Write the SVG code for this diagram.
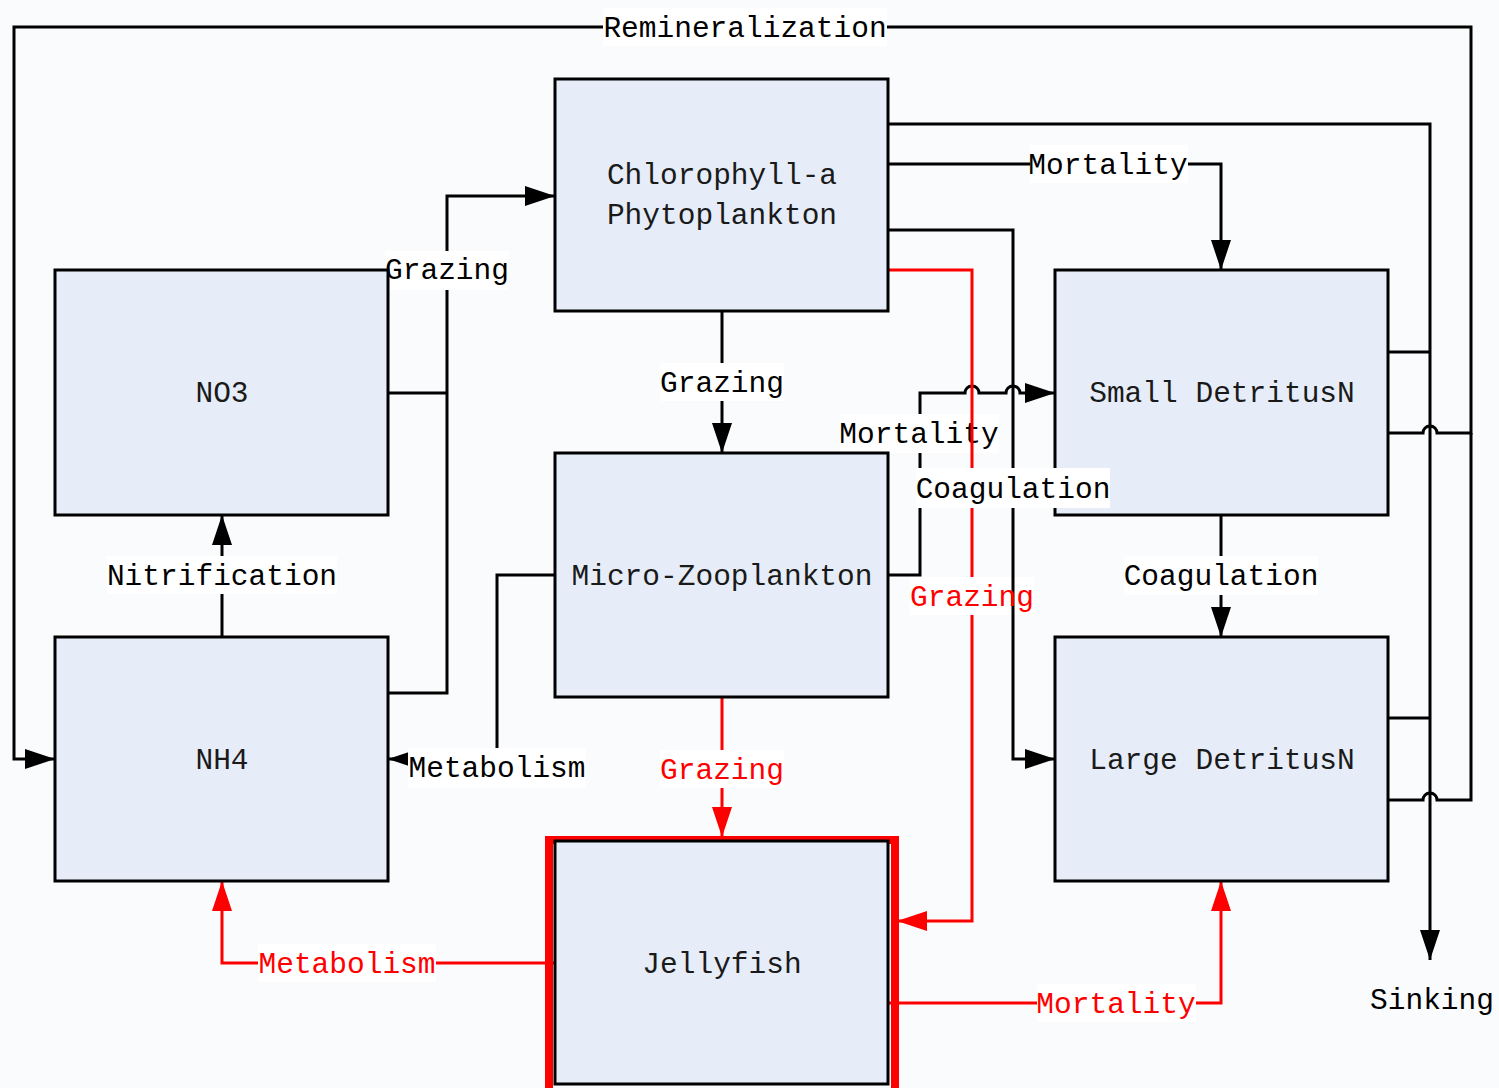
<svg xmlns="http://www.w3.org/2000/svg" width="1499" height="1088" viewBox="0 0 1499 1088">
<defs>
<style>
.box{fill:#e6edf8;stroke:#000;stroke-width:3}
.bt{font-family:"Liberation Mono",monospace;font-size:29.5px;fill:#1a1a1a;text-anchor:middle}
.lt{font-family:"Liberation Mono",monospace;font-size:29.5px;fill:#000;text-anchor:middle}
.rt{fill:#ff0000}
.ln{fill:none;stroke:#000;stroke-width:3}
.rl{fill:none;stroke:#ff0000;stroke-width:3}
.bg{fill:#ffffff}
</style>
<marker id="ab" markerUnits="userSpaceOnUse" markerWidth="32" markerHeight="20" refX="30" refY="10" orient="auto"><path d="M0,0 L30,10 L0,20 z" fill="#000"/></marker>
<marker id="ar" markerUnits="userSpaceOnUse" markerWidth="32" markerHeight="20" refX="30" refY="10" orient="auto"><path d="M0,0 L30,10 L0,20 z" fill="#ff0000"/></marker>
</defs>
<rect x="0" y="0" width="1499" height="1088" fill="#fafbfc"/>

<g id="connectors">
<!-- Remineralization -->
<path class="ln" d="M1388,433 H1423 A7,7 0 0 1 1437,433 H1471 V27 H14 V759 H55" marker-end="url(#ab)"/>
<path class="ln" d="M1388,800 H1423 A7,7 0 0 1 1437,800 H1471 V433"/>
<!-- Sinking -->
<path class="ln" d="M888,124 H1430 V960" marker-end="url(#ab)"/>
<path class="ln" d="M1388,352 H1430"/>
<path class="ln" d="M1388,718 H1430"/>
<!-- Mortality Chl -> Small -->
<path class="ln" d="M888,164 H1221 V270" marker-end="url(#ab)"/>
<!-- Coagulation Chl -> Large -->
<path class="ln" d="M888,230 H1013 V759 H1055" marker-end="url(#ab)"/>
<!-- Mortality Micro -> Small -->
<path class="ln" d="M888,575 H920 V393 H965 A7,7 0 0 1 979,393 H1006 A7,7 0 0 1 1020,393 H1055" marker-end="url(#ab)"/>
<!-- Grazing Chl -> Micro -->
<path class="ln" d="M722,311 V453" marker-end="url(#ab)"/>
<!-- Grazing nutrients -> Chl -->
<path class="ln" d="M388,393 H447"/>
<path class="ln" d="M388,693 H447 V196 H555" marker-end="url(#ab)"/>
<!-- Nitrification -->
<path class="ln" d="M222,637 V515" marker-end="url(#ab)"/>
<!-- Metabolism Micro -> NH4 -->
<path class="ln" d="M555,575 H497 V759 H388" marker-end="url(#ab)"/>
<!-- Coagulation Small -> Large -->
<path class="ln" d="M1221,515 V637" marker-end="url(#ab)"/>
</g>

<g id="labels-black-1">
<rect class="bg" x="603" y="8" width="284" height="38"/>
<text class="lt" x="745" y="37">Remineralization</text>
<rect class="bg" x="1030" y="145" width="158" height="38"/>
<text class="lt" x="1108" y="174">Mortality</text>
<rect class="bg" x="385" y="251" width="124" height="39"/>
<text class="lt" x="447" y="279">Grazing</text>
<rect class="bg" x="660" y="363" width="124" height="38"/>
<text class="lt" x="722" y="392">Grazing</text>
<rect class="bg" x="840" y="414" width="159" height="39"/>
<text class="lt" x="919" y="443">Mortality</text>
<rect class="bg" x="107" y="556" width="230" height="38"/>
<text class="lt" x="222" y="585">Nitrification</text>
<rect class="bg" x="408" y="748" width="178" height="40"/>
<text class="lt" x="497" y="777">Metabolism</text>
<rect class="bg" x="1124" y="556" width="194" height="39"/>
<text class="lt" x="1221" y="585">Coagulation</text>
<text class="lt" x="1432" y="1009">Sinking</text>
</g>

<g id="connectors-red">
<path class="rl" d="M888,270 H972 V921 H897" marker-end="url(#ar)"/>
<path class="rl" d="M722,697 V837" marker-end="url(#ar)"/>
<path class="rl" d="M555,963 H222 V881" marker-end="url(#ar)"/>
<path class="rl" d="M888,1003 H1221 V881" marker-end="url(#ar)"/>
</g>

<g id="labels-red">
<rect class="bg" x="910" y="577" width="124" height="38"/>
<path class="ln" d="M1013,577 V615"/>
<text class="lt rt" x="972" y="606">Grazing</text>
<rect class="bg" x="660" y="750" width="124" height="38"/>
<text class="lt rt" x="722" y="779">Grazing</text>
<rect class="bg" x="258" y="944" width="178" height="38"/>
<text class="lt rt" x="347" y="973">Metabolism</text>
<rect class="bg" x="1037" y="984" width="159" height="38"/>
<text class="lt rt" x="1116" y="1013">Mortality</text>
</g>

<g id="chl">
<rect class="box" x="555" y="79" width="333" height="232"/>
<text class="bt" x="722" y="184">Chlorophyll-a</text>
<text class="bt" x="722" y="224">Phytoplankton</text>
</g>
<g id="no3">
<rect class="box" x="55" y="270" width="333" height="245"/>
<text class="bt" x="222" y="402">NO3</text>
</g>
<g id="micro">
<rect class="box" x="555" y="453" width="333" height="244"/>
<text class="bt" x="722" y="585">Micro-Zooplankton</text>
</g>
<g id="nh4">
<rect class="box" x="55" y="637" width="333" height="244"/>
<text class="bt" x="222" y="769">NH4</text>
</g>
<g id="smalldet">
<rect class="box" x="1055" y="270" width="333" height="245"/>
<text class="bt" x="1222" y="402">Small DetritusN</text>
</g>
<g id="largedet">
<rect class="box" x="1055" y="637" width="333" height="244"/>
<text class="bt" x="1222" y="769">Large DetritusN</text>
</g>
<g id="jellyfish">
<rect x="549" y="840" width="346" height="252" fill="none" stroke="#ff0000" stroke-width="8"/>
<rect class="box" x="555" y="841" width="333" height="243"/>
<text class="bt" x="722" y="973">Jellyfish</text>
</g>

<g id="label-coagulation">
<rect class="bg" x="916" y="468" width="194" height="40"/>
<text class="lt" x="1013" y="498">Coagulation</text>
</g>
</svg>
